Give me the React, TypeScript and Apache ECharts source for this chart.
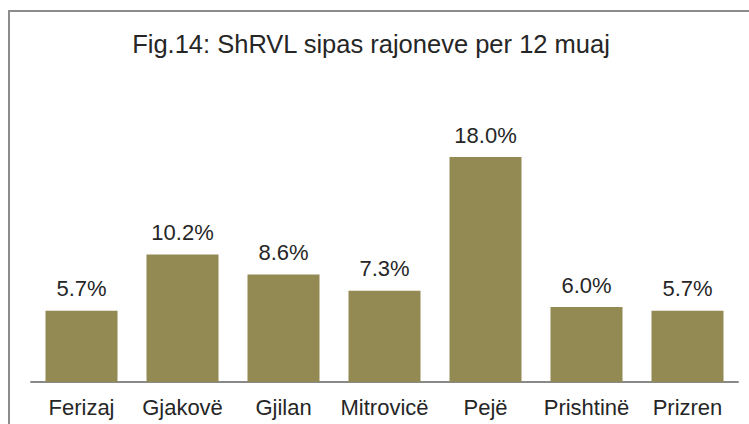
import React, { useEffect, useRef } from "react";
import * as echarts from "echarts";

const categories = ["Ferizaj", "Gjakovë", "Gjilan", "Mitrovicë", "Pejë", "Prishtinë", "Prizren"];
const values = [5.7, 10.2, 8.6, 7.3, 18.0, 6.0, 5.7];
const titleText = "Fig.14: ShRVL sipas rajoneve per 12 muaj";

const FONT = "'Liberation Sans', Arial, sans-serif";

export default function App() {
  const ref = useRef<HTMLDivElement>(null);
  useEffect(() => {
    if (!ref.current) return;
    const chart = echarts.init(ref.current, null, { renderer: "svg" });
    chart.setOption({
      animation: false,
      backgroundColor: "#ffffff",
      title: {
        text: titleText,
        left: 371,
        textAlign: "center",
        top: 31,
        padding: 0,
        textStyle: { fontFamily: FONT, fontSize: 25.5, fontWeight: "normal", color: "#262626" },
      },
      graphic: [
        {
          type: "rect",
          shape: { x: 9, y: 11, width: 800, height: 500 },
          style: { fill: "none", stroke: "#8c8c8c", lineWidth: 2 },
          silent: true,
        },
      ],
      grid: { left: 31, right: 11, top: 132, bottom: 42, containLabel: false },
      xAxis: {
        type: "category",
        data: categories,
        axisLine: { show: true, lineStyle: { color: "#898989", width: 2 } },
        axisTick: { show: false },
        axisLabel: { fontFamily: FONT, fontSize: 22, color: "#262626", margin: 14, interval: 0 },
      },
      yAxis: {
        type: "value",
        min: 0,
        max: 20,
        show: false,
        splitLine: { show: false },
      },
      series: [
        {
          type: "bar",
          data: values,
          barWidth: 72,
          itemStyle: { color: "#938953" },
          label: {
            show: true,
            position: "top",
            distance: 11,
            formatter: (p: any) => p.value.toFixed(1) + "%",
            fontFamily: FONT,
            fontSize: 22,
            color: "#262626",
          },
        },
      ],
    });
    return () => chart.dispose();
  }, []);
  return <div ref={ref} style={{ position: "fixed", left: 0, top: 0, width: 749, height: 424 }} />;
}
